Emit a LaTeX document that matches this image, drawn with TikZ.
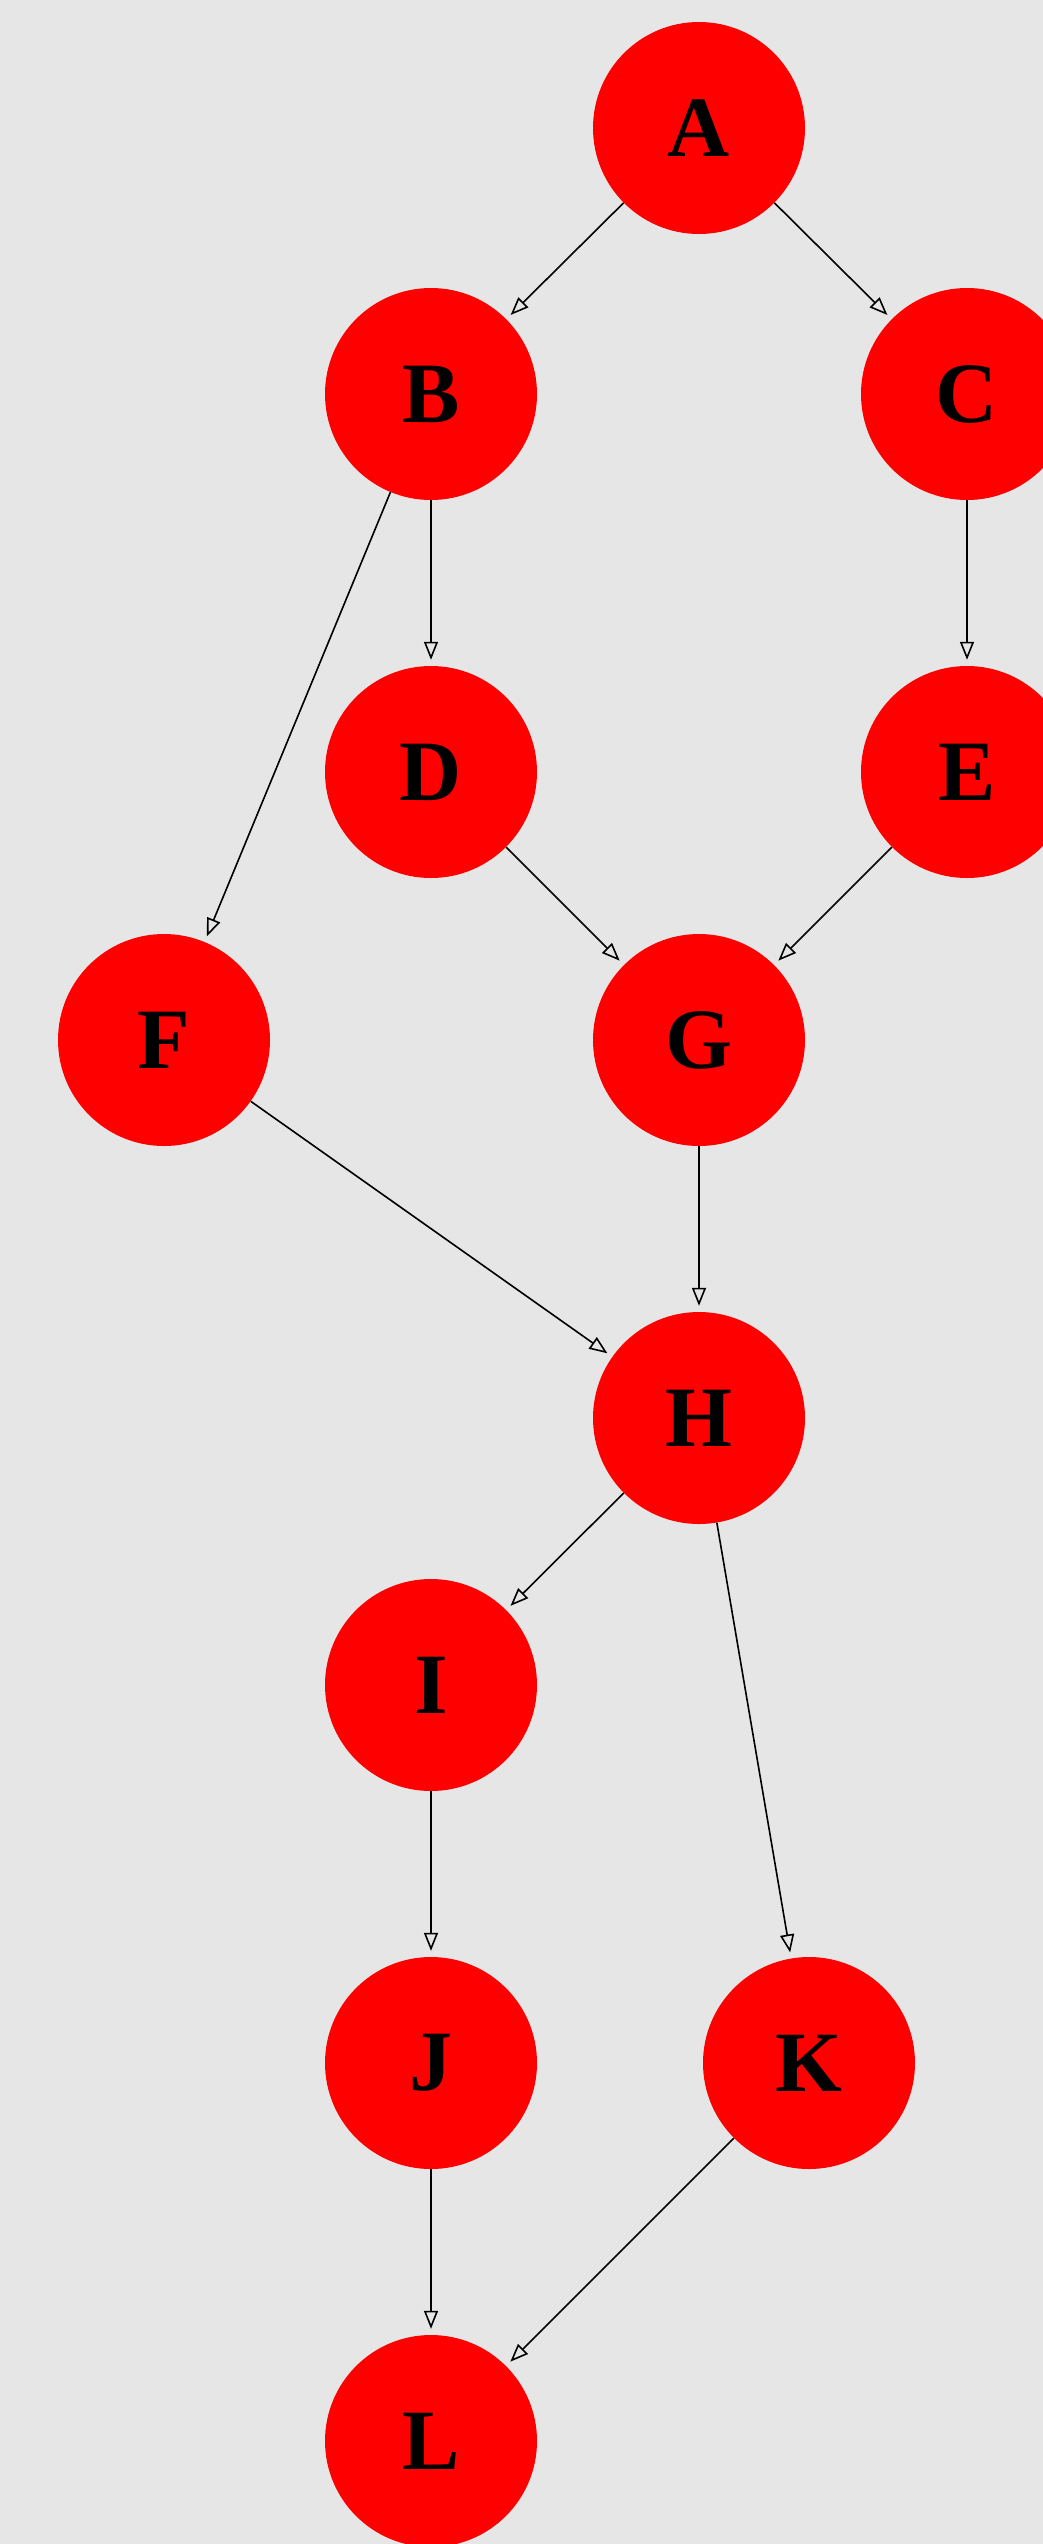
\documentclass[tikz,border=0pt]{standalone}
\usepackage{fontspec}
\setmainfont{Liberation Serif}
\usetikzlibrary{arrows.meta}
\begin{document}
\begin{tikzpicture}[x=1pt,y=-1pt,
  vtx/.style={circle,fill=red,draw=none,minimum size=212pt,inner sep=0pt,
    font=\fontsize{86}{86}\selectfont\bfseries},
  edge/.style={draw=black,line width=1.6pt,shorten >=6pt,
    -{Triangle[open,length=18pt,width=14pt,line width=1.6pt]}}]
\fill[fill={rgb,255:red,230;green,230;blue,230}] (0,0) rectangle (1043,2544);
\useasboundingbox (0,0) rectangle (1043,2544);
\node[vtx] (A) at (699,128) {A};
\node[vtx] (B) at (431,394) {B};
\node[vtx] (C) at (967,394) {C};
\node[vtx] (D) at (431,772) {D};
\node[vtx] (E) at (967,772) {E};
\node[vtx] (F) at (164,1040) {F};
\node[vtx] (G) at (699,1040) {G};
\node[vtx] (H) at (699,1418) {H};
\node[vtx] (I) at (431,1685) {I};
\node[vtx] (J) at (431,2063) {J};
\node[vtx] (K) at (809,2063) {K};
\node[vtx] (L) at (431,2441) {L};
\draw[edge] (A) -- (B);
\draw[edge] (A) -- (C);
\draw[edge] (B) -- (D);
\draw[edge] (B) -- (F);
\draw[edge] (C) -- (E);
\draw[edge] (D) -- (G);
\draw[edge] (E) -- (G);
\draw[edge] (F) -- (H);
\draw[edge] (G) -- (H);
\draw[edge] (H) -- (I);
\draw[edge] (H) -- (K);
\draw[edge] (I) -- (J);
\draw[edge] (J) -- (L);
\draw[edge] (K) -- (L);
\end{tikzpicture}
\end{document}
